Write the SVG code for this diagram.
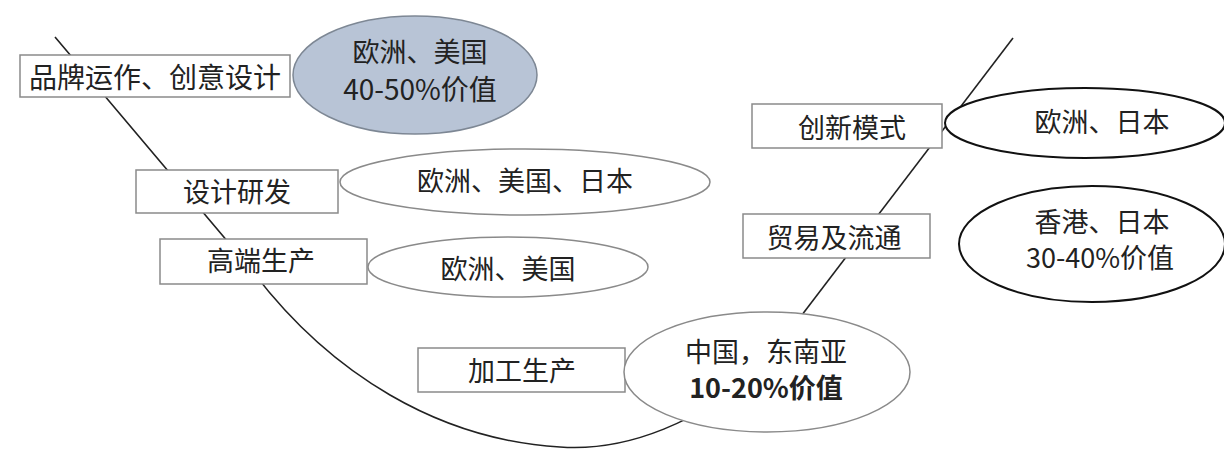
<svg xmlns="http://www.w3.org/2000/svg" width="1224" height="450" viewBox="0 0 1224 450">
<style>
text{font-family:"Noto Sans CJK SC","Liberation Sans",sans-serif;font-size:27px;fill:#222;text-anchor:middle;dominant-baseline:central}
.box{fill:#fff;stroke:#8a8a8a;stroke-width:1.5}
.ell{fill:#fff;stroke:#8a8a8a;stroke-width:1.5}
.ellk{fill:#fff;stroke:#111;stroke-width:2}
.line{fill:none;stroke:#222;stroke-width:1.6}
</style>
<rect width="1224" height="450" fill="#fff"/>
<g id="connectors">
<path class="line" d="M55,37 L250,268 C330,375 440,440 560,447 C630,452 700,420 760,370"/>
<path class="line" d="M760,370 L1013,38"/>
</g>
<g id="n1"><rect class="box" x="20" y="55" width="270" height="42"/><text x="155" y="76" style="font-size:28px">品牌运作、创意设计</text></g>
<g id="e1"><ellipse cx="415" cy="75" rx="122" ry="59" fill="#b8c4d6" stroke="#7d8794" stroke-width="1.5"/><text x="420" y="50">欧洲、美国</text><text x="420" y="88" style="font-size:28px">40-50%价值</text></g>
<g id="n2"><rect class="box" x="136" y="170" width="202" height="43"/><text x="237" y="190">设计研发</text></g>
<g id="e2"><ellipse class="ell" cx="525" cy="182" rx="185" ry="33"/><text x="525" y="179">欧洲、美国、日本</text></g>
<g id="n3"><rect class="box" x="160" y="239" width="207" height="45"/><text x="261" y="259">高端生产</text></g>
<g id="e3"><ellipse class="ell" cx="508" cy="267" rx="140" ry="30"/><text x="508" y="267">欧洲、美国</text></g>
<g id="n4"><rect class="box" x="418" y="348" width="207" height="44"/><text x="522" y="369">加工生产</text></g>
<g id="e4"><ellipse class="ell" cx="767" cy="372" rx="143" ry="60"/><text x="766" y="350">中国，东南亚</text><text x="766" y="386" style="font-weight:bold">10-20%价值</text></g>
<g id="n5"><rect class="box" x="743" y="214" width="187" height="44"/><text x="834" y="236">贸易及流通</text></g>
<g id="e5"><ellipse class="ellk" cx="1092" cy="244" rx="133" ry="58"/><text x="1102" y="220">香港、日本</text><text x="1100" y="256">30-40%价值</text></g>
<g id="n6"><rect class="box" x="752" y="104" width="190" height="44"/><text x="852" y="126">创新模式</text></g>
<g id="e6"><ellipse class="ellk" cx="1085" cy="123" rx="140" ry="35"/><text x="1102" y="120">欧洲、日本</text></g>
</svg>
